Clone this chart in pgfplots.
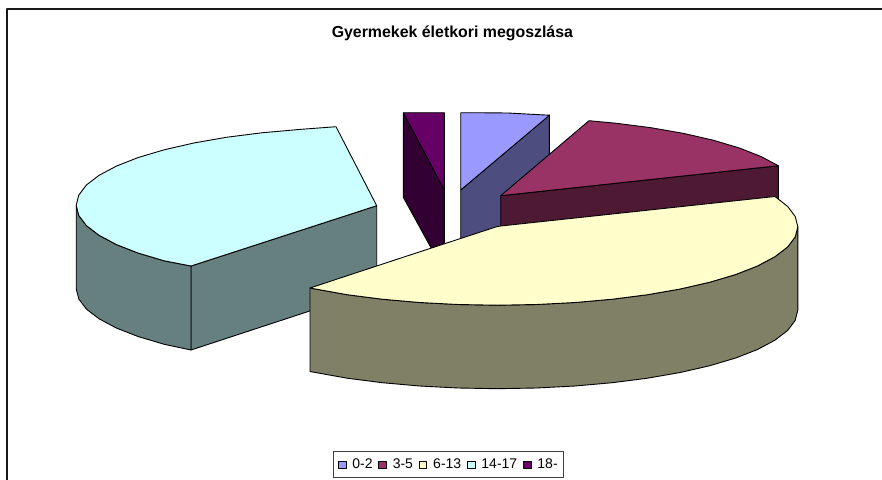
\documentclass[border=0pt]{standalone}
\usepackage{pgfplots}
\pgfplotsset{compat=1.18}
\usepackage{fontspec}
\setmainfont{Liberation Sans}
\definecolor{cA}{HTML}{9999FF}\definecolor{cAs}{HTML}{4D4D80}
\definecolor{cB}{HTML}{993366}\definecolor{cBs}{HTML}{4D1933}
\definecolor{cC}{HTML}{FFFFCC}\definecolor{cCs}{HTML}{808066}
\definecolor{cD}{HTML}{CCFFFF}\definecolor{cDs}{HTML}{668080}
\definecolor{cE}{HTML}{660066}\definecolor{cEs}{HTML}{330033}
\begin{document}
\begin{tikzpicture}[x=1pt,y=1pt]
\path[use as bounding box] (0pt,0pt) rectangle (882pt,479pt);
\begin{axis}[at={(0pt,0pt)},anchor=south west,scale only axis,width=882pt,height=479pt,
  xmin=0,xmax=882,ymin=0,ymax=479,y dir=reverse,hide axis,
  every axis plot/.append style={line width=0.9pt,line join=round,mark=none,draw=black},
  legend columns=-1,
  legend image code/.code={\path[draw=none,fill=none] (-3pt,0pt) -- (10.6pt,0pt);\draw[line width=0.9pt,draw=black,#1] (0pt,-3.6pt) rectangle (7.6pt,3.6pt);},
  legend style={at={(axis cs:333,451)},anchor=north west,font=\fontsize{14}{16}\selectfont,
    draw=black!75,line width=0.9pt,inner xsep=2pt,inner ysep=5.5pt,
    nodes={inner xsep=3.3pt,inner ysep=2pt},
    cells={anchor=west}}]
\addlegendimage{fill=cA}\addlegendentry{0-2}
\addlegendimage{fill=cB}\addlegendentry{3-5}
\addlegendimage{fill=cC}\addlegendentry{6-13}
\addlegendimage{fill=cD}\addlegendentry{14-17}
\addlegendimage{fill=cE}\addlegendentry{18-}
% frame
\addplot[forget plot,line width=1.8pt,draw=black!90] coordinates {(6.8,480)(6.8,9)(883,9)};
% 18-
\addplot[forget plot,fill=cEs] coordinates {(403.3,112.7)(444.3,190)(444.3,272)(403.3,197.3)(403.3,112.7)};
\addplot[forget plot,fill=cE] coordinates {(403.3,112.7)(444.3,112.7)(444.3,190)(403.3,112.7)};
% 0-2
\addplot[forget plot,fill=cAs] coordinates {(460.7,190)(549.3,115)(549.3,200)(460.7,274)(460.7,190)};
\addplot[forget plot,fill=cA] coordinates {(460.7,112.7)(485,112.8)(508,113)(530,114.2)(549.5,115.2)(460.7,190)(460.7,112.7)};
% 3-5
\addplot[forget plot,fill=cBs] coordinates {(500.7,195.7)(778.3,165.7)(778.3,250)(500.7,280)(500.7,195.7)};
\addplot[forget plot,fill=cB] coordinates {(500.7,195.7)(589,120.7)(615.7,123.2)(650.95,127.7)(683.6,133.4)(713.2,140.2)(739.1,147.9)(760.9,156.45)(778.3,165.7)(500.7,195.7)};
% 14-17
\addplot[forget plot,fill=cDs] coordinates {(191,266)(376.7,205.7)(376.7,289)(191,350)(191,266)};
\addplot[forget plot,fill=cDs] coordinates {(76.2,205.3)(78.8,215.5)(86.4,225.6)(99.1,235.3)(116.5,244.6)(138.3,253.1)(164.2,260.8)(191,266)(191,350)(164.2,344.3)(138.3,336.6)(116.5,328.1)(99.1,318.8)(86.4,309.1)(78.8,299)(76.2,288.8)(76.2,205.3)};
\addplot[forget plot,fill=cD] coordinates {(336,126.7)(376.7,205.7)(191,266)(164.2,260.8)(138.3,253.1)(116.5,244.6)(99.1,235.3)(86.4,225.6)(78.8,215.5)(76.2,205.3)(78.8,195.1)(86.4,185)(99.1,175.3)(116.5,166.05)(138.3,157.5)(164.2,149.8)(193.8,143)(226.4,137.3)(261.7,132.8)(298.9,129.5)(336,126.7)};
% 6-13
\addplot[forget plot,fill=cCs] coordinates {(797.8,226.7)(795.2,236.9)(787.6,247)(774.9,256.7)(757.5,266)(735.7,274.5)(709.8,282.2)(680.2,289)(647.5,294.7)(612.3,299.2)(575.1,302.5)(536.5,304.5)(497.3,305.2)(458.1,304.5)(419.5,302.5)(382.3,299.2)(347.1,294.7)(310,288)(310,371.5)(347.1,378.2)(382.3,382.7)(419.5,386)(458.1,388)(497.3,388.7)(536.5,388)(575.1,386)(612.3,382.7)(647.5,378.2)(680.2,372.5)(709.8,365.7)(735.7,358)(757.5,349.5)(774.9,340.2)(787.6,330.5)(795.2,320.4)(797.8,310.2)(797.8,226.7)};
\addplot[forget plot,fill=cC] coordinates {(310,288)(400,258.3)(496.7,226.7)(500.7,226)(775,196.5)(787.6,206.4)(795.2,216.5)(797.8,226.7)(795.2,236.9)(787.6,247)(774.9,256.7)(757.5,266)(735.7,274.5)(709.8,282.2)(680.2,289)(647.5,294.7)(612.3,299.2)(575.1,302.5)(536.5,304.5)(497.3,305.2)(458.1,304.5)(419.5,302.5)(382.3,299.2)(347.1,294.7)(310,288)};
\node[font=\fontsize{15.9}{18}\selectfont\bfseries,anchor=center] at (axis cs:452.4,33.5) {Gyermekek életkori megoszlása};
\end{axis}
\end{tikzpicture}
\end{document}
